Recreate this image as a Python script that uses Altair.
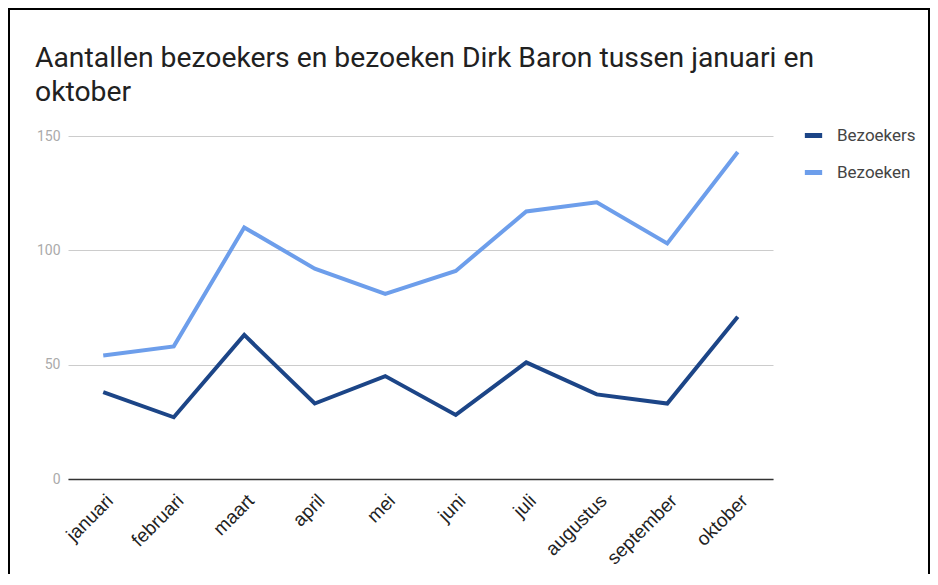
import altair as alt
import pandas as pd

months = ["januari", "februari", "maart", "april", "mei", "juni", "juli",
          "augustus", "september", "oktober"]
bezoekers = [38, 27, 63, 33, 45, 28, 51, 37, 33, 71]
bezoeken = [54, 58, 110, 92, 81, 91, 117, 121, 103, 143]
series = ["Bezoekers", "Bezoeken"]
colors = ["#1c4587", "#6d9eeb"]
y_ticks = [0, 50, 100, 150]
title_lines = ["Aantallen bezoekers en bezoeken Dirk Baron tussen januari en", "oktober"]

rows = []
for m, a, b in zip(months, bezoekers, bezoeken):
    rows.append({"maand": m, "reeks": series[0], "waarde": a})
    rows.append({"maand": m, "reeks": series[1], "waarde": b})
df = pd.DataFrame(rows)

W, H = 705, 343
PL, PT = 60, 128
TOTAL_W, TOTAL_H = 922, 566

lines = alt.Chart(df).mark_line(strokeWidth=4, strokeJoin="miter").encode(
    x=alt.X("maand:N", sort=months, title=None,
            axis=alt.Axis(labelAngle=-45, labelFontSize=19, labelColor="#222222",
                          labelFont="Arial", ticks=False, grid=False,
                          domainColor="#333333", domainWidth=1.5, labelPadding=12)),
    y=alt.Y("waarde:Q", title=None,
            scale=alt.Scale(domain=[0, 150], nice=False),
            axis=alt.Axis(values=y_ticks, labelFontSize=14, labelColor="#aaaaaa",
                          labelFont="Roboto", ticks=False, domain=False,
                          gridColor="#cccccc", labelPadding=8)),
    color=alt.Color("reeks:N", sort=series,
                    scale=alt.Scale(domain=series, range=colors),
                    legend=alt.Legend(title=None, orient="none", legendX=734, legendY=-12,
                                      symbolType="stroke", symbolStrokeWidth=5,
                                      symbolSize=300, labelFontSize=17,
                                      labelColor="#444444", labelFont="Roboto",
                                      rowPadding=15, labelOffset=12)),
)

title_df = pd.DataFrame({"tekst": title_lines, "regel": [0, 1]})
title = alt.Chart(title_df).mark_text(
    align="left", baseline="alphabetic", fontSize=28.3, font="Roboto",
    color="#212121").encode(
    text="tekst:N",
    x=alt.value(-33),
    y=alt.Y("regel:Q", scale=alt.Scale(domain=[0, 1], range=[-69, -35]), axis=None),
)

one = pd.DataFrame({"a": [0]})
bottom_edge = TOTAL_H - PT
right_edge = TOTAL_W - PL - 1
left = alt.Chart(one).mark_rule(color="black", strokeWidth=2).encode(
    x=alt.value(-59), y=alt.value(-128), y2=alt.value(bottom_edge))
top = alt.Chart(one).mark_rule(color="black", strokeWidth=2).encode(
    x=alt.value(-60), x2=alt.value(right_edge + 1), y=alt.value(-127))
right = alt.Chart(one).mark_rule(color="black", strokeWidth=2).encode(
    x=alt.value(right_edge), y=alt.value(-128), y2=alt.value(bottom_edge))

chart = alt.layer(lines, title, left, top, right).resolve_scale(y="independent").properties(
    width=W, height=H,
    autosize=alt.AutoSizeParams(type="none"),
    padding={"left": PL, "top": PT, "right": TOTAL_W - PL - W, "bottom": TOTAL_H - PT - H},
).configure_view(stroke=None)

chart.save("out.html", embed_options={"renderer": "svg", "actions": False})
